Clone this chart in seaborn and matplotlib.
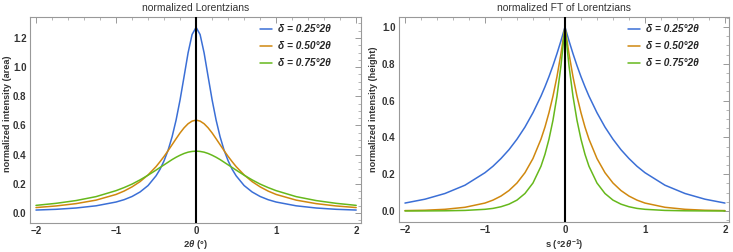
import pandas as pd
import seaborn as sns
import matplotlib.pyplot as plt
from matplotlib.ticker import MultipleLocator

labels = ['δ = 0.25°2θ', 'δ = 0.50°2θ', 'δ = 0.75°2θ']
colors = ['#3b6fd6', '#d0880f', '#66b81c']

# curves are symmetric about 0, values read for the positive half
x_half = [0, 0.05, 0.1, 0.15, 0.2, 0.25, 0.3, 0.35, 0.4, 0.45, 0.5, 0.6, 0.7,
          0.8, 0.9, 1.0, 1.25, 1.5, 1.75, 2.0]
area_025 = [1.273, 1.224, 1.098, 0.936, 0.776, 0.637, 0.522, 0.430, 0.358, 0.300,
            0.255, 0.188, 0.144, 0.113, 0.091, 0.075, 0.049, 0.034, 0.025, 0.020]
area_050 = [0.637, 0.630, 0.612, 0.584, 0.549, 0.509, 0.468, 0.427, 0.388, 0.352,
            0.318, 0.261, 0.215, 0.179, 0.150, 0.127, 0.088, 0.064, 0.048, 0.037]
area_075 = [0.424, 0.422, 0.417, 0.408, 0.396, 0.382, 0.366, 0.348, 0.330, 0.312,
            0.294, 0.259, 0.227, 0.198, 0.174, 0.153, 0.112, 0.085, 0.066, 0.052]

s_half = [0, 0.05, 0.1, 0.15, 0.2, 0.25, 0.3, 0.4, 0.5, 0.6, 0.7, 0.8, 0.9,
          1.0, 1.25, 1.5, 1.75, 2.0]
ft_025 = [1.0, 0.925, 0.855, 0.790, 0.730, 0.675, 0.624, 0.534, 0.456, 0.390,
          0.333, 0.285, 0.243, 0.208, 0.140, 0.095, 0.064, 0.043]
ft_050 = [1.0, 0.855, 0.730, 0.624, 0.534, 0.456, 0.390, 0.285, 0.208, 0.152,
          0.111, 0.081, 0.059, 0.043, 0.020, 0.009, 0.004, 0.002]
ft_075 = [1.0, 0.790, 0.624, 0.493, 0.390, 0.308, 0.243, 0.152, 0.095, 0.059,
          0.037, 0.023, 0.014, 0.009, 0.003, 0.001, 0.0003, 0.0001]


def long_form(xh, series, xname):
    rows = []
    for lab, yh in zip(labels, series):
        xs = [-v for v in reversed(xh[1:])] + list(xh)
        ys = list(reversed(yh[1:])) + list(yh)
        for xv, yv in zip(xs, ys):
            rows.append({xname: xv, 'y': yv, 'curve': lab})
    return pd.DataFrame(rows)


left = long_form(x_half, [area_025, area_050, area_075], 'x')
right = long_form(s_half, [ft_025, ft_050, ft_075], 's')

sns.set_style('white')
plt.rcParams['font.family'] = ['Liberation Sans', 'DejaVu Sans']
plt.rcParams['mathtext.fontset'] = 'custom'
plt.rcParams['mathtext.rm'] = 'Liberation Sans:bold'
plt.rcParams['mathtext.it'] = 'Liberation Sans:bold:italic'

fig = plt.figure(figsize=(7.33, 2.52), dpi=100)
ax1 = fig.add_axes([0.0409, 0.115, 0.4516, 0.8175])
ax2 = fig.add_axes([0.5443, 0.119, 0.4502, 0.8135])

sns.lineplot(data=left, x='x', y='y', hue='curve', palette=colors, lw=1.1,
             sort=False, estimator=None, ax=ax1)
sns.lineplot(data=right, x='s', y='y', hue='curve', palette=colors, lw=1.1,
             sort=False, estimator=None, ax=ax2)

ax1.set_xlim(-2.075, 2.06)
ax1.set_ylim(-0.069, 1.344)
ax2.set_xlim(-2.075, 2.05)
ax2.set_ylim(-0.06, 1.054)

ax1.yaxis.set_major_locator(MultipleLocator(0.2))
ax1.yaxis.set_minor_locator(MultipleLocator(0.05))
ax2.yaxis.set_major_locator(MultipleLocator(0.2))
ax2.yaxis.set_minor_locator(MultipleLocator(0.05))

for ax in (ax1, ax2):
    ax.axvline(0, color='black', lw=1.5, zorder=5)
    ax.xaxis.set_major_locator(MultipleLocator(1))
    ax.xaxis.set_minor_locator(MultipleLocator(0.2))
    ax.tick_params(which='both', direction='in', top=True, right=True,
                   color='#999999', labelsize=7, labelcolor='#333333', pad=2.5)
    ax.tick_params(which='major', length=4, width=0.7)
    ax.tick_params(which='minor', length=2, width=0.5)
    for lbl in ax.get_xticklabels() + ax.get_yticklabels():
        lbl.set_fontweight('bold')
    for sp in ax.spines.values():
        sp.set_color('#999999')
        sp.set_linewidth(0.8)
    sns.move_legend(ax, 'upper right', frameon=False, title=None,
                    handlelength=1.1, handletextpad=0.6, labelspacing=0.7,
                    bbox_to_anchor=(0.935, 1.01),
                    prop=dict(weight='bold', style='italic', size=7.3))

ax1.set_title('normalized Lorentzians', fontsize=7.5, color='#333333', pad=4)
ax2.set_title('normalized FT of Lorentzians', fontsize=7.5, color='#333333', pad=4)
ax1.set_xlabel(r'2$\theta$ (°)', fontsize=6.8, fontweight='bold', color='#333333')
ax1.set_ylabel('normalized intensity (area)', fontsize=6.6, fontweight='bold',
               color='#333333')
ax2.set_xlabel(r's (°2$\theta^{-1}$)', fontsize=6.8, fontweight='bold', color='#333333')
ax2.set_ylabel('normalized intensity (height)', fontsize=6.6, fontweight='bold',
               color='#333333')
ax1.xaxis.set_label_coords(0.5, -0.075)
ax1.yaxis.set_label_coords(-0.053, 0.53)
ax2.xaxis.set_label_coords(0.5, -0.076)
ax2.yaxis.set_label_coords(-0.064, 0.55)

fig.savefig('out.png', dpi=100)
